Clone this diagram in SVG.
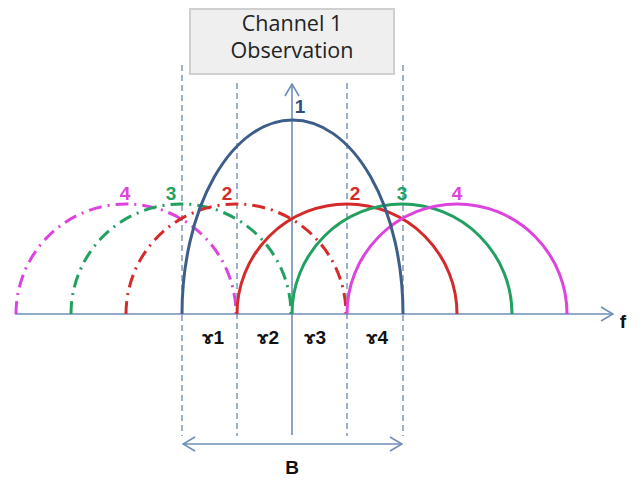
<svg xmlns="http://www.w3.org/2000/svg" width="641" height="480" viewBox="0 0 641 480">
<defs>
<marker id="open" viewBox="0 0 14 16" refX="13" refY="8" markerWidth="14" markerHeight="16" markerUnits="userSpaceOnUse" orient="auto-start-reverse">
<path d="M1 1 L13 8 L1 15" fill="none" stroke="#6f8db8" stroke-width="1.6"/>
</marker>
</defs>
<style>
.ax{stroke:#6f8db8;stroke-width:1.6;fill:none}
.dash{stroke:#7f98bb;stroke-width:1.5;stroke-dasharray:6 4;fill:none}
.arc{fill:none;stroke-width:3}
.dd{stroke-dasharray:13 6 2 6}
.lbl{font-family:"Liberation Sans",Arial,sans-serif;font-weight:bold;font-size:19px;text-anchor:middle}
.box{font-family:"Open Sans","Liberation Sans",sans-serif;font-size:21.5px;text-anchor:middle;fill:#222}
</style>
<rect width="641" height="480" fill="#fff"/>
<g id="observation-box">
<rect x="190" y="9" width="204" height="65" fill="#efefef" stroke="#cfcfcf" stroke-width="2"/>
<text class="box" x="292" y="31">Channel 1</text>
<text class="box" x="292" y="58">Observation</text>
</g>
<g id="connectors">
<line class="dash" x1="182" y1="65" x2="182" y2="436"/>
<line class="dash" x1="237" y1="83" x2="237" y2="436"/>
<line class="dash" x1="347" y1="83" x2="347" y2="436"/>
<line class="dash" x1="403" y1="65" x2="403" y2="436"/>
<line class="ax" x1="15" y1="314" x2="613" y2="314" marker-end="url(#open)"/>
<line class="ax" x1="292" y1="435" x2="292" y2="84" marker-end="url(#open)"/>
<line class="ax" x1="183" y1="444" x2="402" y2="444" marker-start="url(#open)" marker-end="url(#open)"/>
</g>
<g id="arcs">
<path class="arc dd" stroke="#dd44dd" d="M16 314 A110 110 0 0 1 236 314"/>
<path class="arc dd" stroke="#22a060" d="M71 314 A110 110 0 0 1 291 314"/>
<path class="arc dd" stroke="#d42a2a" d="M126 314 A110 110 0 0 1 346 314"/>
<path class="arc" stroke="#d42a2a" d="M237 314 A110 110 0 0 1 457 314"/>
<path class="arc" stroke="#22a060" d="M292 314 A110 110 0 0 1 512 314"/>
<path class="arc" stroke="#dd44dd" d="M347 314 A110 110 0 0 1 567 314"/>
<path class="arc" stroke="#3e5e8a" d="M182 314 A110.5 194 0 0 1 403 314"/>
</g>
<g id="labels">
<text class="lbl" x="300" y="113" fill="#2f4f7a" font-size="21">1</text>
<text class="lbl" x="125" y="200" fill="#dd44dd" font-size="20">4</text>
<text class="lbl" x="171" y="200" fill="#22a060" font-size="20">3</text>
<text class="lbl" x="227" y="200" fill="#d42a2a" font-size="20">2</text>
<text class="lbl" x="355" y="200" fill="#d42a2a" font-size="20">2</text>
<text class="lbl" x="402" y="200" fill="#22a060" font-size="20">3</text>
<text class="lbl" x="457" y="200" fill="#dd44dd" font-size="20">4</text>
<text class="lbl" x="213" y="344" fill="#111">ɤ1</text>
<text class="lbl" x="268" y="344" fill="#111">ɤ2</text>
<text class="lbl" x="315" y="344" fill="#111">ɤ3</text>
<text class="lbl" x="377" y="344" fill="#111">ɤ4</text>
<text class="lbl" x="292" y="474" fill="#111" font-size="21">B</text>
<text class="lbl" x="623" y="328" fill="#111" font-size="20">f</text>
</g>
</svg>
